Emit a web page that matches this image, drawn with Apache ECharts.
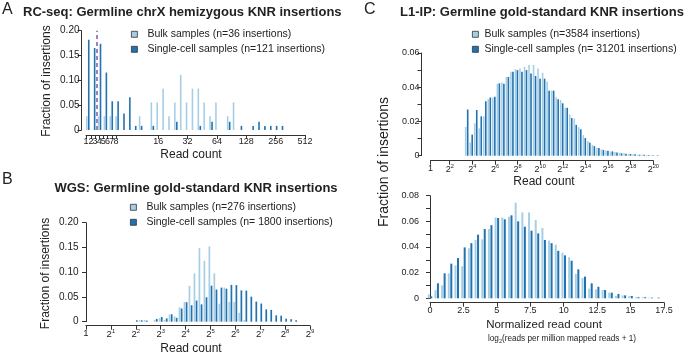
<!DOCTYPE html>
<html>
<head>
<meta charset="utf-8">
<script src="https://cdn.jsdelivr.net/npm/echarts@6/dist/echarts.min.js"></script>
<style>
html, body { margin: 0; padding: 0; background: #fff; }
#chart { width: 689px; height: 354px; }
</style>
</head>
<body>
<div id="chart"></div>
<script>
// A: RC-seq, read count on log2 axis (bin centres in log2 units)
const aBins = [1.6,1.8,2.0,2.2,2.4,2.6,2.8,3.0,3.2,3.4,3.6,3.8,4.0,4.2,4.4,4.6,4.8,5.0,5.2,5.4,5.6,5.8,6.0,6.2,6.4,6.6,6.8,7.0,7.2,7.4,7.6,7.8,8.0,8.2];
const aBulk = [0.0278,0,0.0278,0.0278,0.0278,0.0278,0,0,0,0.0278,0,0.0556,0.0556,0.0833,0.0278,0.0556,0.1111,0.0556,0.0833,0.0833,0.0556,0.0278,0.0556,0,0.0278,0.0556,0,0,0,0,0,0,0,0];
const aCell = [0.1818,0.1653,0.1736,0.1157,0.0579,0.0579,0.0331,0.0661,0.0083,0.0083,0,0.0083,0,0,0,0.0165,0,0,0,0.0083,0,0.0165,0,0,0.0165,0,0.0083,0,0.0083,0.0165,0.0083,0.0083,0.0083,0.0083];
const aTickPos = [1.54,1.71,1.85,1.99,2.13,2.27,2.42,2.56,4,5,6,7,8,9];
const aTickText = ['1','2','3','4','5','6','7','8','16','32','64','128','256','512'];
const aCutoff = 1.87;

// B: WGS
const bBins = [2.0,2.2,2.4,2.8,3.0,3.2,3.4,3.6,3.8,4.0,4.2,4.4,4.6,4.8,5.0,5.2,5.4,5.6,5.8,6.0,6.2,6.4,6.6,6.8,7.0,7.2,7.4,7.6,7.8,8.0,8.2,8.4];
const bBulk = [0,0.0036,0.0036,0.0036,0.0072,0.0036,0.0145,0.0109,0.029,0.0399,0.0725,0.0978,0.1486,0.1232,0.1522,0.0978,0.0362,0.0688,0.0399,0.0399,0.0181,0.0036,0,0,0,0,0,0,0,0,0,0];
const bCell = [0.0028,0.0028,0.0022,0.0056,0.0094,0.0067,0.015,0.0078,0.0267,0.0394,0.0333,0.0428,0.035,0.0494,0.0728,0.065,0.0689,0.0667,0.0744,0.0739,0.0633,0.0628,0.0506,0.0406,0.0367,0.025,0.0239,0.0128,0.0122,0.0061,0.005,0.0028];

// C (top): L1-IP raw read count, log2 units
const cBins = [3.5,3.9,4.3,4.7,5.1,5.5,5.9,6.3,6.7,7.1,7.5,7.9,8.3,8.7,9.1,9.5,9.9,10.3,10.7,11.1,11.5,11.9,12.3,12.7,13.1,13.5,13.9,14.3,14.7,15.1,15.5,15.9,16.3,16.7,17.1,17.5,17.9,18.3,18.7,19.1,19.5,19.9,20.3];
const cBulk = [0.0168,0.0078,0.019,0.016,0.023,0.033,0.034,0.042,0.0427,0.046,0.049,0.0505,0.051,0.052,0.053,0.053,0.051,0.0485,0.0434,0.038,0.034,0.0325,0.028,0.024,0.0216,0.0166,0.012,0.0084,0.0064,0.0045,0.0037,0.0029,0.0025,0.0021,0.0018,0.0014,0.001,0.0008,0.0006,0.0005,0.0004,0.0003,0];
const cCell = [0.027,0.0123,0.0267,0.023,0.0318,0.034,0.0345,0.0423,0.042,0.046,0.049,0.05,0.049,0.05,0.048,0.0466,0.045,0.045,0.038,0.038,0.033,0.0306,0.028,0.022,0.018,0.0154,0.0103,0.0076,0.0056,0.0045,0.0033,0.0029,0.0025,0.0018,0.0014,0.0012,0.001,0.0008,0.0006,0.0005,0.0004,0.0003,0.0003];
const cTickPos = [0.3,2,4,6,8,10,12,14,16,18,20];
const cTickExp = [0,2,4,6,8,10,12,14,16,18,20];

// C (bottom): normalized read count
const dBins = [0,0.5,1,1.5,2,2.5,3,3.5,4,4.5,5,5.5,6,6.5,7,7.5,8,8.5,9,9.5,10,10.5,11,11.5,12,12.5,13,13.5,14,14.5,15,15.5,16,16.5,17];
const dBulk = [0.003,0.0065,0.01,0.0195,0.0257,0.025,0.039,0.0455,0.046,0.054,0.063,0.063,0.0636,0.0745,0.067,0.067,0.061,0.0548,0.045,0.0418,0.0356,0.032,0.019,0.0158,0.0075,0.007,0.0065,0.0044,0.0018,0.0023,0.0018,0.0008,0.0008,0.0005,0];
const dCell = [0.0015,0.0117,0.0195,0.027,0.0314,0.0397,0.043,0.0496,0.054,0.057,0.0626,0.0616,0.0647,0.06,0.0558,0.0527,0.0506,0.0455,0.043,0.037,0.0335,0.0293,0.0226,0.0169,0.0117,0.009,0.0065,0.0044,0.0034,0.0023,0.0018,0.0008,0.0008,0.0005,0.0005];

const FONT = 'Liberation Sans, Arial, Helvetica, sans-serif';
const LIGHT = '#a6cfe6';
const DARK = '#2172b0';
const AX = '#333';
const TXT = '#222';

const chart = echarts.init(document.getElementById('chart'));

function bars(name, bins, vals, color, idx, w) {
  return {
    type: 'bar', name: name,
    xAxisIndex: idx, yAxisIndex: idx,
    barWidth: w, barGap: '25%', clip: false,
    itemStyle: { color: color },
    emphasis: { disabled: true },
    data: bins.map((b, i) => [b, vals[i]])
  };
}

function yAxis(idx, max, step, offset, fs, everyOther) {
  return {
    type: 'value', gridIndex: idx, min: 0, max: max, interval: step,
    offset: offset,
    axisLine: { show: true, lineStyle: { color: AX, width: 1 } },
    axisTick: { show: true, length: 4, lineStyle: { color: AX } },
    splitLine: { show: false },
    axisLabel: {
      fontSize: fs, color: TXT, margin: 2, fontFamily: FONT,
      showMinLabel: true, showMaxLabel: true,
      formatter: v => {
        if (everyOther && Math.round(v * 100) % 2 !== 0) return '';
        return v === 0 ? '0' : v.toFixed(2);
      }
    }
  };
}

const supRich = fs => ({
  b: { fontSize: fs, color: TXT, fontFamily: FONT },
  s: { fontSize: fs * 0.62, color: TXT, fontFamily: FONT, padding: [0, 0, 6, 0] }
});
const powLabel = e => e === 0 ? '{b|1}' : '{b|2}{s|' + e + '}';

const xBase = {
  type: 'value',
  axisLine: { show: true, onZero: false, lineStyle: { color: AX, width: 1 } },
  axisTick: { show: true, length: 4, lineStyle: { color: AX } },
  splitLine: { show: false }
};

function legend(names, left, top, pad) {
  return {
    data: names, orient: 'vertical', left: left, top: top, padding: 0,
    itemGap: 3, itemWidth: 6, itemHeight: 6, icon: 'rect', selectedMode: false,
    itemStyle: { borderColor: '#333', borderWidth: 0.8 },
    textStyle: { fontSize: 10.5, color: TXT, fontFamily: FONT, lineHeight: 12, padding: [0, 0, 0, pad] }
  };
}

function txt(text, x, y, size, opts) {
  return Object.assign({
    type: 'text', x: x, y: y, silent: true,
    style: {
      text: text, fill: TXT, font: (opts && opts.bold ? 'bold ' : '') + size + 'px ' + FONT,
      textAlign: (opts && opts.align) || 'center', textVerticalAlign: 'middle'
    }
  }, opts && opts.rot ? { rotation: Math.PI / 2 } : {});
}

const nA = ['Bulk samples (n=36 insertions)', 'Single-cell samples (n=121 insertions)'];
const nB = ['Bulk samples (n=276 insertions)', 'Single-cell samples (n= 1800 insertions)'];
const nC = ['Bulk samples (n=3584 insertions)', 'Single-cell samples (n= 31201 insertions)'];
const nD = ['Bulk (normalized)', 'Single-cell (normalized)'];

const seriesA = bars(nA[1], aBins, aCell, DARK, 0, 1.6);
seriesA.markLine = {
  silent: true, symbol: 'none', label: { show: false },
  lineStyle: { color: '#9c82c4', type: [4, 3], width: 2 },
  data: [{ xAxis: aCutoff }]
};

chart.setOption({
  animation: false,
  textStyle: { fontFamily: FONT },
  grid: [
    { left: 86, top: 30.7, width: 219, height: 99.3, containLabel: false, outerBoundsMode: 'none' },
    { left: 86, top: 222.7, width: 224, height: 99, containLabel: false, outerBoundsMode: 'none' },
    { left: 430.5, top: 53, width: 222.8, height: 102.7, containLabel: false, outerBoundsMode: 'none' },
    { left: 430, top: 195.7, width: 234, height: 102.6, containLabel: false, outerBoundsMode: 'none' }
  ],
  xAxis: [
    Object.assign({}, xBase, {
      gridIndex: 0, min: aTickPos[0], max: 9, offset: 5,
      axisTick: { show: true, length: 4, lineStyle: { color: AX }, customValues: aTickPos },
      axisLabel: {
        customValues: aTickPos, fontSize: 9, color: TXT, margin: 2, fontFamily: FONT,
        showMinLabel: true, showMaxLabel: true, hideOverlap: false,
        formatter: v => aTickText[aTickPos.indexOf(v)]
      }
    }),
    Object.assign({}, xBase, {
      gridIndex: 1, min: 0, max: 9, interval: 1, offset: 4,
      axisLabel: { margin: 3, showMinLabel: true, showMaxLabel: true, formatter: v => powLabel(v), rich: supRich(9.5) }
    }),
    Object.assign({}, xBase, {
      gridIndex: 2, min: cTickPos[0], max: 20, offset: 5,
      axisTick: { show: true, length: 4, lineStyle: { color: AX }, customValues: cTickPos },
      axisLabel: {
        customValues: cTickPos, margin: 3, showMinLabel: true, showMaxLabel: true,
        formatter: v => powLabel(cTickExp[cTickPos.indexOf(v)]), rich: supRich(9)
      }
    }),
    Object.assign({}, xBase, {
      gridIndex: 3, min: 0, max: 17.5, interval: 2.5, offset: 4.4,
      axisLabel: { fontSize: 9, color: TXT, margin: 3, fontFamily: FONT, showMinLabel: true, showMaxLabel: true }
    })
  ],
  yAxis: [
    yAxis(0, 0.2, 0.05, 4.5, 10, false),
    yAxis(1, 0.2, 0.05, 5.5, 10, false),
    yAxis(2, 0.06, 0.01, 9, 9, true),
    yAxis(3, 0.08, 0.01, 9, 9, true)
  ],
  legend: [
    legend(nA, 131, 28.3, 5),
    legend(nB, 130, 201.3, 5),
    legend(nC, 472, 28.3, 1)
  ],
  series: [
    bars(nA[0], aBins, aBulk, LIGHT, 0, 1.6), seriesA,
    bars(nB[0], bBins, bBulk, LIGHT, 1, 1.7), bars(nB[1], bBins, bCell, DARK, 1, 1.7),
    bars(nC[0], cBins, cBulk, LIGHT, 2, 1.6), bars(nC[1], cBins, cCell, DARK, 2, 1.6),
    bars(nD[0], dBins, dBulk, LIGHT, 3, 2), bars(nD[1], dBins, dCell, DARK, 3, 2)
  ],
  graphic: [
    txt('A', 2, 9.5, 16, { align: 'left' }),
    txt('RC-seq: Germline chrX hemizygous KNR insertions', 23, 12, 13, { bold: true, align: 'left' }),
    txt('Fraction of insertions', 47, 81, 12, { rot: true }),
    txt('Read count', 191, 155, 12),
    txt('B', 2, 179.5, 16, { align: 'left' }),
    txt('WGS: Germline gold-standard KNR insertions', 196, 188.7, 13, { bold: true }),
    txt('Fraction of insertions', 45.5, 273.5, 12, { rot: true }),
    txt('Read count', 191, 348.5, 12),
    txt('C', 364, 9.5, 16, { align: 'left' }),
    txt('L1-IP: Germline gold-standard KNR insertions', 542, 12.3, 13, { bold: true }),
    txt('Fraction of insertions', 384, 162, 14, { rot: true }),
    txt('Read count', 544, 181.5, 12),
    txt('Normalized read count', 544, 325, 11.5),
    {
      type: 'text', x: 562, y: 339, silent: true,
      style: {
        text: '{a|log}{s|2}{a|(reads per million mapped reads + 1)}',
        textAlign: 'center', textVerticalAlign: 'middle',
        rich: {
          a: { fontSize: 8.2, fill: TXT, fontFamily: FONT },
          s: { fontSize: 5.5, fill: TXT, fontFamily: FONT, padding: [5, 0, 0, 0] }
        }
      }
    }
  ]
});
</script>
</body>
</html>
